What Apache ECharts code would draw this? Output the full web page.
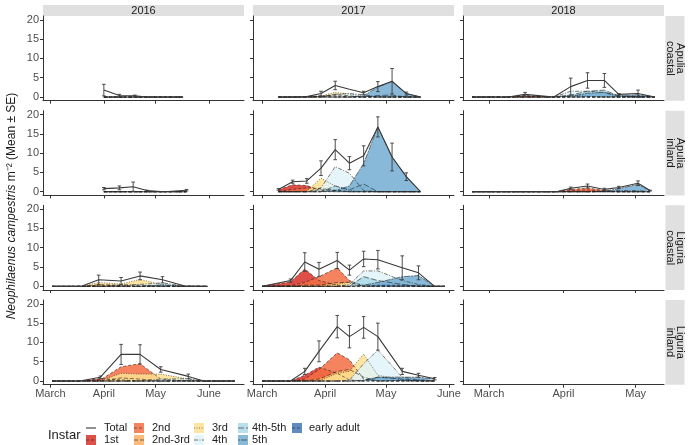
<!DOCTYPE html>
<html><head><meta charset="utf-8">
<script src="https://cdn.jsdelivr.net/npm/echarts@6/dist/echarts.min.js"></script>
<style>html,body{margin:0;padding:0;background:#fff}#c{width:688px;height:445px}</style>
</head><body><div id="c"></div>
<script>
const years = [2016, 2017, 2018];
const sites = ['Apulia\ncoastal', 'Apulia\ninland', 'Liguria\ncoastal', 'Liguria\ninland'];
const instars = ['1st', '2nd', '2nd-3rd', '3rd', '4th', '4th-5th', '5th', 'early adult'];
const instarColors = ['#D73027', '#F46D43', '#FDAE61', '#FEE090', '#E0F3F8', '#ABD9E9', '#74ADD1', '#4575B4'];
const monthNames = ['March', 'April', 'May', 'June'];
const monthStarts = ['03-01', '04-01', '05-01', '06-01'];
const yTicks = [0, 5, 10, 15, 20];

// ---- Apulia coastal 2016
const AC16_dates = ['04-01', '04-10', '04-19', '04-26', '05-17'];
const AC16_total = [1.8, 0.4, 0.3, 0, 0];
const AC16_se = [1.5, 0.3, 0.2, 0, 0];
const AC16_inst = {};
// ---- Apulia inland 2016
const AI16_dates = ['04-01', '04-10', '04-18', '04-26', '05-06', '05-19'];
const AI16_total = [0.8, 1.0, 1.3, 0.3, 0, 0.4];
const AI16_se = [0.3, 0.5, 1.2, 0.1, 0, 0.2];
const AI16_inst = {};
// ---- Liguria coastal 2016
const LC16_dates = ['03-02', '03-19', '03-29', '04-11', '04-22', '05-05', '05-18', '05-31'];
const LC16_total = [0, 0, 1.7, 1.4, 2.7, 1.7, 0.1, 0];
const LC16_se = [0, 0, 1.2, 0.9, 1.0, 0.8, 0, 0];
const LC16_inst = {
  '2nd':     [0, 0, 0.3, 0.2, 0, 0, 0, 0],
  '2nd-3rd': [0, 0, 0.4, 0.3, 0.3, 0, 0, 0],
  '3rd':     [0, 0, 1.0, 0.6, 1.8, 0.4, 0, 0],
  '4th':     [0, 0, 0, 0.3, 0.5, 0.9, 0.1, 0],
  '5th':     [0, 0, 0, 0, 0, 0.4, 0, 0]
};
// ---- Liguria inland 2016
const LI16_dates = ['03-02', '03-18', '03-30', '04-11', '04-22', '05-04', '05-20', '05-29', '06-16'];
const LI16_total = [0, 0, 1.0, 6.9, 6.9, 3.0, 1.2, 0, 0];
const LI16_se = [0, 0, 0.3, 2.6, 2.5, 0.7, 0.6, 0, 0];
const LI16_inst = {
  '1st':     [0, 0, 0.6, 0.3, 0, 0, 0, 0, 0],
  '2nd':     [0, 0, 0.3, 3.7, 4.5, 0.5, 0, 0, 0],
  '2nd-3rd': [0, 0, 0, 0.8, 0.5, 0, 0, 0, 0],
  '3rd':     [0, 0, 0.1, 2.0, 1.8, 1.8, 0.5, 0, 0],
  '4th':     [0, 0, 0, 0, 0, 0.5, 0.6, 0, 0],
  '5th':     [0, 0, 0, 0, 0, 0, 0.1, 0, 0]
};
// ---- Apulia coastal 2017
const AC17_dates = ['03-09', '03-16', '03-23', '03-30', '04-06', '04-13', '04-20', '04-27', '05-04', '05-11', '05-18'];
const AC17_total = [0, 0, 0.1, 0.9, 3.0, 2.0, 1.1, 2.7, 4.1, 0.9, 0];
const AC17_se = [0, 0, 0, 0.6, 1.1, 0, 0.4, 1.3, 3.3, 0.4, 0];
const AC17_inst = {
  '1st':     [0, 0, 0.1, 0.2, 0, 0, 0, 0, 0, 0, 0],
  '2nd':     [0, 0, 0, 0.3, 0.4, 0, 0, 0, 0, 0, 0],
  '2nd-3rd': [0, 0, 0, 0.1, 0.7, 0.3, 0, 0, 0, 0, 0],
  '3rd':     [0, 0, 0, 0.3, 1.2, 0.8, 0.2, 0, 0, 0, 0],
  '4th':     [0, 0, 0, 0, 0.7, 0.9, 0.6, 0, 0, 0, 0],
  '4th-5th': [0, 0, 0, 0, 0, 0, 0, 0.4, 0.5, 0, 0],
  '5th':     [0, 0, 0, 0, 0, 0, 0.3, 2.6, 4.0, 0.9, 0]
};
// ---- Apulia inland 2017
const AI17_dates = ['03-09', '03-16', '03-23', '03-30', '04-06', '04-13', '04-20', '04-27', '05-04', '05-11', '05-18'];
const AI17_total = [0.6, 2.6, 2.8, 6.1, 10.9, 7.4, 9.3, 16.8, 9.0, 3.9, 0];
const AI17_se = [0.2, 0.4, 0.6, 1.9, 2.6, 1.7, 2.6, 2.6, 3.6, 1.0, 0];
const AI17_inst = {
  '1st':     [0.5, 1.8, 1.6, 0.3, 0, 0, 0, 0, 0, 0, 0],
  '2nd':     [0.1, 0.6, 1.0, 0.8, 0.4, 0, 0, 0, 0, 0, 0],
  '2nd-3rd': [0, 0, 0, 0.5, 0.3, 0, 0, 0, 0, 0, 0],
  '3rd':     [0, 0, 0.2, 3.5, 1.5, 0.3, 0, 0, 0, 0, 0],
  '4th':     [0, 0, 0, 1.0, 6.5, 4.8, 0.3, 0, 0, 0, 0],
  '4th-5th': [0, 0, 0, 0, 1.5, 0.5, 2.0, 0, 0, 0, 0],
  '5th':     [0, 0, 0, 0, 0.3, 1.5, 7.3, 16.8, 9.0, 3.9, 0]
};
// ---- Liguria coastal 2017
const LC17_dates = ['03-01', '03-15', '03-22', '03-29', '04-07', '04-13', '04-20', '04-27', '05-09', '05-17', '05-25', '05-30'];
const LC17_total = [0, 1.5, 6.3, 4.4, 6.7, 4.2, 7.1, 6.9, 4.8, 3.5, 0, 0];
const LC17_se = [0, 0.4, 2.4, 1.8, 2.1, 1.3, 2.0, 2.4, 3.1, 1.8, 0, 0];
const LC17_inst = {
  '1st':         [0, 1.2, 4.5, 1.5, 0.3, 0, 0, 0, 0, 0, 0, 0],
  '2nd':         [0, 0.2, 1.0, 2.5, 4.8, 1.5, 0, 0, 0, 0, 0, 0],
  '2nd-3rd':     [0, 0, 0.3, 0.3, 1.0, 1.0, 0, 0, 0, 0, 0, 0],
  '3rd':         [0, 0, 0, 0, 0.5, 1.2, 0.3, 0, 0, 0, 0, 0],
  '4th':         [0, 0, 0, 0, 0, 0.5, 4.0, 4.0, 1.5, 0.5, 0, 0],
  '4th-5th':     [0, 0, 0, 0, 0, 0, 2.5, 1.5, 0.5, 0, 0, 0],
  '5th':         [0, 0, 0, 0, 0, 0, 0.3, 1.0, 2.5, 2.8, 0, 0],
  'early adult': [0, 0, 0, 0, 0, 0, 0, 0.3, 0.3, 0.2, 0, 0]
};
// ---- Liguria inland 2017
const LI17_dates = ['03-01', '03-15', '03-22', '03-29', '04-07', '04-13', '04-20', '04-27', '05-09', '05-17', '05-25'];
const LI17_total = [0, 0, 2.5, 7.7, 14.1, 11.5, 13.9, 11.5, 2.5, 1.5, 0.6];
const LI17_se = [0, 0, 0.8, 2.7, 2.9, 2.9, 2.8, 3.5, 0.8, 0.5, 0.3];
const LI17_inst = {
  '1st':         [0, 0, 1.5, 3.6, 2.0, 0.3, 0, 0, 0, 0, 0],
  '2nd':         [0, 0, 0.5, 3.0, 7.3, 5.5, 0.5, 0, 0, 0, 0],
  '2nd-3rd':     [0, 0, 0, 0.5, 2.5, 3.0, 1.0, 0, 0, 0, 0],
  '3rd':         [0, 0, 0, 0, 2.0, 2.5, 7.0, 1.5, 0.3, 0, 0],
  '4th':         [0, 0, 0, 0, 0, 0.2, 4.5, 8.0, 1.0, 0.3, 0],
  '4th-5th':     [0, 0, 0, 0, 0, 0, 0, 1.0, 0.5, 0, 0],
  '5th':         [0, 0, 0, 0, 0, 0, 0.2, 1.0, 1.0, 1.0, 0.5],
  'early adult': [0, 0, 0, 0, 0, 0, 0, 0, 0.2, 0.3, 0.1]
};
// ---- Apulia coastal 2018
const AC18_dates = ['02-22', '03-09', '03-16', '03-28', '04-04', '04-11', '04-18', '04-24', '05-02', '05-09'];
const AC18_total = [0, 0, 0.7, 0, 2.7, 4.3, 4.3, 0.7, 0.9, 0];
const AC18_se = [0, 0, 0.5, 0, 2.2, 2.0, 1.8, 0.2, 0.9, 0];
const AC18_inst = {
  '1st':         [0, 0, 0.3, 0, 0, 0, 0, 0, 0, 0],
  '2nd':         [0, 0, 0.4, 0, 0, 0, 0, 0, 0, 0],
  '3rd':         [0, 0, 0, 0, 0.5, 0.2, 0, 0, 0, 0],
  '4th':         [0, 0, 0, 0, 1.5, 1.5, 1.2, 0, 0, 0],
  '4th-5th':     [0, 0, 0, 0, 0.5, 1.5, 1.8, 0.3, 0, 0],
  '5th':         [0, 0, 0, 0, 0.2, 1.0, 1.2, 0.4, 0.6, 0],
  'early adult': [0, 0, 0, 0, 0, 0, 0, 0, 0.3, 0]
};
// ---- Apulia inland 2018
const AI18_dates = ['02-22', '03-29', '04-04', '04-11', '04-18', '04-24', '05-02', '05-07'];
const AI18_total = [0, 0, 0.9, 1.5, 0.6, 1.1, 2.2, 0.3];
const AI18_se = [0, 0, 0.3, 0.5, 0.3, 0.3, 0.6, 0.1];
const AI18_inst = {
  '1st': [0, 0, 0.3, 0.5, 0.1, 0, 0, 0],
  '2nd': [0, 0, 0.6, 1.0, 0.3, 0, 0, 0],
  '4th': [0, 0, 0, 0, 0.1, 0.3, 0.3, 0],
  '5th': [0, 0, 0, 0, 0.1, 0.8, 1.9, 0.3]
};

const panels = [
  {row: 0, col: 0, dates: AC16_dates, total: AC16_total, se: AC16_se, inst: AC16_inst},
  {row: 1, col: 0, dates: AI16_dates, total: AI16_total, se: AI16_se, inst: AI16_inst},
  {row: 2, col: 0, dates: LC16_dates, total: LC16_total, se: LC16_se, inst: LC16_inst},
  {row: 3, col: 0, dates: LI16_dates, total: LI16_total, se: LI16_se, inst: LI16_inst},
  {row: 0, col: 1, dates: AC17_dates, total: AC17_total, se: AC17_se, inst: AC17_inst},
  {row: 1, col: 1, dates: AI17_dates, total: AI17_total, se: AI17_se, inst: AI17_inst},
  {row: 2, col: 1, dates: LC17_dates, total: LC17_total, se: LC17_se, inst: LC17_inst},
  {row: 3, col: 1, dates: LI17_dates, total: LI17_total, se: LI17_se, inst: LI17_inst},
  {row: 0, col: 2, dates: AC18_dates, total: AC18_total, se: AC18_se, inst: AC18_inst},
  {row: 1, col: 2, dates: AI18_dates, total: AI18_total, se: AI18_se, inst: AI18_inst}
];

// ---- layout
const colLeft = [43, 253, 463];
const colW = 201;
const rowTop = [16, 110.7, 205.3, 300];
const rowH = 84.7;
const dashes = [[3, 2], [3, 2], [4, 2], [1, 1.5], [4, 1.5, 1, 1.5], [6, 2], [2, 1, 6, 1], [3, 2]];

function dayOf(year, md) {
  const p = md.split('-').map(Number);
  return (Date.UTC(year, p[0] - 1, p[1]) - Date.UTC(year, 2, 1)) / 86400000;
}
// x ranges: data range expanded 5% each side
const xRange = years.map((y, c) => {
  let lo = Infinity, hi = -Infinity;
  panels.filter(p => p.col === c).forEach(p => p.dates.forEach(d => {
    const v = dayOf(y, d); lo = Math.min(lo, v); hi = Math.max(hi, v);
  }));
  const e = (hi - lo) * 0.05;
  return [lo - e, hi + e];
});

const grid = [], xAxis = [], yAxis = [], series = [];
const axisColor = '#333333';
const font = 'Liberation Sans, Arial, sans-serif';
for (let r = 0; r < 4; r++) {
  for (let c = 0; c < 3; c++) {
    const i = r * 3 + c;
    grid.push({left: colLeft[c], top: rowTop[r], width: colW, height: rowH});
    const tv = monthStarts.map(m => dayOf(years[c], m)).filter(v => v >= xRange[c][0] && v <= xRange[c][1]);
    xAxis.push({
      gridIndex: i, type: 'value', min: xRange[c][0], max: xRange[c][1],
      axisLine: {show: true, onZero: false, lineStyle: {color: axisColor, width: 1}},
      axisTick: {show: true, length: 3, customValues: tv, lineStyle: {color: axisColor}},
      axisLabel: {show: r === 3, customValues: tv, color: '#4d4d4d', fontSize: 11, margin: 4,
        fontFamily: font,
        formatter: v => monthNames[tv.findIndex(t => Math.abs(t - v) < 0.01)]},
      splitLine: {show: false}
    });
    yAxis.push({
      gridIndex: i, type: 'value', min: -0.95, max: 21,
      axisLine: {show: true, onZero: false, lineStyle: {color: axisColor, width: 1}},
      axisTick: {show: true, length: 3, customValues: yTicks, lineStyle: {color: axisColor}},
      axisLabel: {show: c === 0, customValues: yTicks, color: '#4d4d4d', fontSize: 11, margin: 4,
        fontFamily: font},
      splitLine: {show: false}
    });
  }
}

panels.forEach(p => {
  const i = p.row * 3 + p.col;
  const yr = years[p.col];
  const xs = p.dates.map(d => dayOf(yr, d));
  instars.forEach((name, k) => {
    const arr = p.inst[name] || p.dates.map(() => 0);
    series.push({
      type: 'line', xAxisIndex: i, yAxisIndex: i, symbol: 'none', silent: true, animation: false,
      data: xs.map((x, j) => [x, arr[j]]),
      lineStyle: {color: '#222', width: 0.6, type: dashes[k]},
      areaStyle: {color: instarColors[k], opacity: 0.85, origin: 'auto'},
      z: 2
    });
  });
  series.push({
    type: 'line', xAxisIndex: i, yAxisIndex: i, symbol: 'none', silent: true, animation: false,
    data: xs.map((x, j) => [x, p.total[j]]),
    lineStyle: {color: '#3a3a3a', width: 1.1}, z: 4
  });
  const eb = [];
  xs.forEach((x, j) => { if (p.se[j] > 0) eb.push([x, Math.max(0, p.total[j] - p.se[j]), p.total[j] + p.se[j]]); });
  series.push({
    type: 'custom', xAxisIndex: i, yAxisIndex: i, silent: true, animation: false, z: 5,
    encode: {x: 0, y: [1, 2]},
    data: eb,
    renderItem: (params, api) => {
      const x = api.value(0);
      const a = api.coord([x, api.value(1)]), b = api.coord([x, api.value(2)]);
      const w = 1.8, st = {stroke: '#3a3a3a', lineWidth: 0.9};
      return {type: 'group', children: [
        {type: 'line', shape: {x1: a[0], y1: a[1], x2: b[0], y2: b[1]}, style: st},
        {type: 'line', shape: {x1: a[0] - w, y1: a[1], x2: a[0] + w, y2: a[1]}, style: st},
        {type: 'line', shape: {x1: b[0] - w, y1: b[1], x2: b[0] + w, y2: b[1]}, style: st}
      ]};
    }
  });
});

// ---- strips, titles, legend (graphic)
const graphic = [];
const stripFill = '#e0e0e0';
years.forEach((y, c) => {
  graphic.push({type: 'rect', shape: {x: colLeft[c], y: 5, width: colW, height: 11}, style: {fill: stripFill}, silent: true});
  graphic.push({type: 'text', x: colLeft[c] + colW / 2, y: 11, silent: true,
    style: {text: String(y), align: 'center', verticalAlign: 'middle', font: '11px ' + font, fill: '#1a1a1a'}});
});
sites.forEach((s, r) => {
  graphic.push({type: 'rect', shape: {x: 665.5, y: rowTop[r], width: 19, height: rowH}, style: {fill: stripFill}, silent: true});
  graphic.push({type: 'text', x: 675, y: rowTop[r] + rowH / 2, rotation: -Math.PI / 2, silent: true,
    style: {text: s, align: 'center', verticalAlign: 'middle', font: '11px ' + font, fill: '#1a1a1a', lineHeight: 10}});
});
graphic.push({type: 'text', x: 12, y: 206, rotation: Math.PI / 2, silent: true,
  style: {text: '{i|Neophilaenus campestris} m⁻² (Mean ± SE)', align: 'center', verticalAlign: 'middle',
    font: '12px ' + font, fill: '#1a1a1a',
    rich: {i: {fontStyle: 'italic', fontSize: 12, fontFamily: font, fill: '#1a1a1a'}}}});

// legend
graphic.push({type: 'text', x: 48, y: 435, silent: true,
  style: {text: 'Instar', align: 'left', verticalAlign: 'middle', font: '13px ' + font, fill: '#1a1a1a'}});
const legendItems = ['Total'].concat(instars);
const keyX = [86, 134, 194, 238, 292];
const labX = [104, 152, 212, 252, 309];
const rowY = [428, 440];
legendItems.forEach((name, n) => {
  const c = Math.floor(n / 2), r = n % 2;
  const cx = keyX[c], cy = rowY[r];
  if (name === 'Total') {
    graphic.push({type: 'line', shape: {x1: cx, y1: cy, x2: cx + 10, y2: cy}, style: {stroke: '#3a3a3a', lineWidth: 1.1}, silent: true});
  } else {
    const k = instars.indexOf(name);
    graphic.push({type: 'rect', shape: {x: cx, y: cy - 5, width: 10, height: 10},
      style: {fill: instarColors[k], opacity: 0.85}, silent: true});
    graphic.push({type: 'line', shape: {x1: cx, y1: cy, x2: cx + 10, y2: cy},
      style: {stroke: '#222', lineWidth: 0.6, lineDash: dashes[k]}, silent: true});
  }
  graphic.push({type: 'text', x: labX[c], y: cy, silent: true,
    style: {text: name, align: 'left', verticalAlign: 'middle', font: '11px ' + font, fill: '#222'}});
});

const chart = echarts.init(document.getElementById('c'), null, {renderer: 'canvas'});
chart.setOption({
  animation: false, backgroundColor: '#ffffff',
  grid, xAxis, yAxis, series, graphic
});
</script></body></html>
